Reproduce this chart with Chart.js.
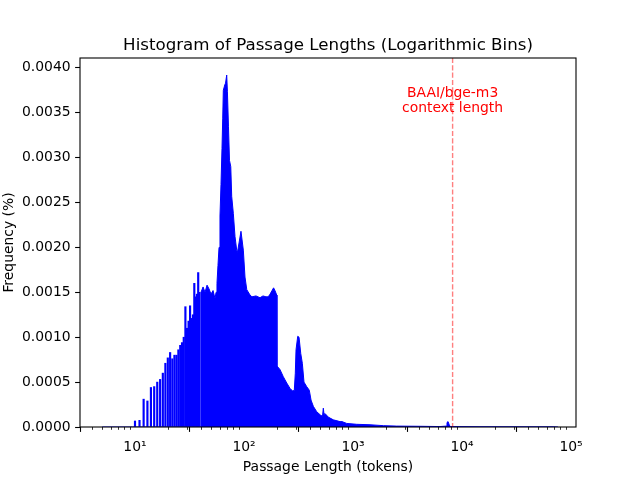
<!DOCTYPE html>
<html>
<head>
<meta charset="utf-8">
<script src="https://cdn.jsdelivr.net/npm/chart.js@4.4.1/dist/chart.umd.min.js"></script>
<style>
  html, body { margin: 0; padding: 0; background: #fff; }
</style>
</head>
<body>
<canvas id="histChart" width="640" height="480"></canvas>
<script>
// short passages: one integer length per log bin, so these show up as spikes
const spikeLengths = [10, 11, 12, 13, 14, 15, 16, 17, 18, 19, 20, 21, 22, 23, 24,
  25, 26, 27, 28, 29, 30, 31, 32, 33, 34, 35, 36, 37, 38, 39];
const spikeFreq = [0.000067, 0.000074, 0.00031, 0.00029, 0.00044, 0.00045, 0.00050, 0.00053,
  0.00060, 0.00071, 0.00077, 0.00083, 0.00076, 0.00080, 0.00080, 0.00086, 0.00091, 0.00094,
  0.00100, 0.00134, 0.00110, 0.00118, 0.00135, 0.00121, 0.00125, 0.00160, 0.00145, 0.00148,
  0.00172, 0.00150];

// longer passages: bins are filled, read as a continuous outline
const curveLengths = [5, 9.5, 39.6, 40.3, 42.1, 43.9, 45.8, 47.7, 49.8, 52.0, 54.2, 55.4, 56.5,
  57.7, 59.0, 60.2, 61.5, 62.8, 63.8, 64.6, 66.6, 67.7, 69.4, 70.4, 72.0, 73.6, 75.6, 77.1,
  79.8, 82.7, 85.7, 86.9, 90.0, 93.8, 98.6, 102.1, 106, 113.5, 118.3, 128.8, 140.2, 149.3,
  159.1, 166.7, 173.5, 180.8, 186.7, 192.3, 199.5, 200.5, 213.8, 229.4, 246.6, 264.4, 279.8,
  289.3, 295.5, 300, 311, 319.7, 331.4, 342.8, 355, 375.7, 397, 411.9, 432.6, 464.7, 505.6,
  525, 534, 542, 553.6, 593, 659, 760, 793, 875, 1081, 1432, 1897, 2517, 4120, 6286, 7129,
  7278, 7441, 7603, 7770, 14620, 34000, 68400, 76000];
const curveFreq = [0, 0, 0, 0.00150, 0.00156, 0.00150, 0.00158, 0.00154, 0.00148, 0.00152,
  0.00143, 0.00150, 0.00160, 0.00180, 0.00200, 0.00235, 0.00270, 0.00310, 0.00344, 0.00375,
  0.00381, 0.00383, 0.00392, 0.00374, 0.00335, 0.00297, 0.00290, 0.00257, 0.00238, 0.00212,
  0.00197, 0.00194, 0.00205, 0.00218, 0.00197, 0.00167, 0.00153, 0.00147, 0.00145, 0.00146,
  0.00144, 0.00146, 0.00145, 0.00145, 0.00148, 0.00152, 0.00155, 0.00152, 0.00147, 0.00068,
  0.00064, 0.00056, 0.00049, 0.00043, 0.00040, 0.00041, 0.00060, 0.00086, 0.00101, 0.00100,
  0.00082, 0.00071, 0.00050, 0.00045, 0.00041, 0.00030, 0.00023, 0.00017, 0.00013, 0.00012,
  0.00021, 0.00014, 0.00015, 0.00011, 0.00008, 0.00006, 0.00006, 0.00004, 0.00003, 0.000025,
  0.000015, 0.00001, 0.000008, 0.000005, 0.00001, 0.00005, 0.00006, 0.00003, 0.000005,
  0.000003, 0.000002, 0.000002, 0];

const xTicks = [10, 100, 1000, 10000, 100000];
const yTicks = [0, 0.0005, 0.001, 0.0015, 0.002, 0.0025, 0.003, 0.0035, 0.004];
const contextLength = 8192;

const sup = ['⁰', '¹', '²', '³', '⁴', '⁵'];

Chart.defaults.font.family = 'DejaVu Sans';
Chart.defaults.font.size = 13.9;
Chart.defaults.color = '#000';

const extras = {
  id: 'extras',
  afterDatasetsDraw(chart) {
    const { ctx, chartArea: a, scales: { x } } = chart;
    const cx = x.getPixelForValue(contextLength);
    ctx.save();
    ctx.strokeStyle = 'rgba(255,0,0,0.5)';
    ctx.lineWidth = 1.4;
    ctx.setLineDash([5.1, 2.2]);
    ctx.beginPath();
    ctx.moveTo(cx, a.top);
    ctx.lineTo(cx, a.bottom);
    ctx.stroke();
    ctx.restore();
  },
  afterDraw(chart) {
    const { ctx, chartArea: a, scales: { x, y } } = chart;
    ctx.save();
    // box round the plot
    ctx.strokeStyle = '#000';
    ctx.lineWidth = 1.1;
    ctx.strokeRect(a.left, a.top, a.right - a.left, a.bottom - a.top);
    // minor log ticks
    ctx.lineWidth = 0.8;
    ctx.beginPath();
    for (let e = 0; e <= 5; e++) {
      for (let m = 2; m <= 9; m++) {
        const v = m * Math.pow(10, e);
        if (v < x.min || v > x.max) continue;
        const px = Math.round(x.getPixelForValue(v)) + 0.5;
        ctx.moveTo(px, a.bottom);
        ctx.lineTo(px, a.bottom + 2.8);
      }
    }
    ctx.stroke();
    // title
    ctx.fillStyle = '#000';
    ctx.textAlign = 'center';
    ctx.textBaseline = 'alphabetic';
    ctx.font = '16.67px "DejaVu Sans"';
    ctx.fillText('Histogram of Passage Lengths (Logarithmic Bins)', (a.left + a.right) / 2, 49.5);
    // note next to the dashed line
    const cx = x.getPixelForValue(contextLength);
    const by = y.getPixelForValue(0.0035);
    ctx.fillStyle = 'red';
    ctx.font = '13.9px "DejaVu Sans"';
    ctx.fillText('BAAI/bge-m3', cx, by - 16);
    ctx.fillText('context length', cx, by - 0.5);
    ctx.restore();
  }
};

new Chart(document.getElementById('histChart'), {
  type: 'bar',
  data: {
    datasets: [{
      type: 'bar',
      data: spikeLengths.map((v, i) => ({ x: v, y: spikeFreq[i] })),
      backgroundColor: '#0000ff',
      borderWidth: 0,
      barThickness: 1.5,
      order: 1
    }, {
      type: 'line',
      data: curveLengths.map((v, i) => ({ x: v, y: curveFreq[i] })),
      borderColor: '#0000ff',
      backgroundColor: '#0000ff',
      borderWidth: 1,
      pointRadius: 0,
      tension: 0,
      fill: 'origin',
      order: 2
    }]
  },
  options: {
    responsive: false,
    animation: false,
    layout: { padding: { left: 0, top: 58, right: 64, bottom: 0 } },
    plugins: { legend: { display: false }, tooltip: { enabled: false } },
    scales: {
      x: {
        type: 'logarithmic',
        min: 3.13,
        max: 111000,
        afterBuildTicks: (s) => { s.ticks = xTicks.map(v => ({ value: v })); },
        afterFit: (s) => { s.height = 53; },
        ticks: {
          autoSkip: false,
          maxRotation: 0,
          padding: 7,
          callback: (v) => '10' + sup[Math.round(Math.log10(v))]
        },
        grid: { drawOnChartArea: false, tickLength: 4.9, color: '#000', tickWidth: 1.1 },
        border: { display: false },
        title: { display: true, text: 'Passage Length (tokens)', padding: { top: 0, bottom: 4.7 } }
      },
      y: {
        min: 0,
        max: 0.00411,
        afterBuildTicks: (s) => { s.ticks = yTicks.map(v => ({ value: v })); },
        afterFit: (s) => { s.width = 80; },
        ticks: {
          padding: 4.5,
          callback: (v) => v.toFixed(4)
        },
        grid: { drawOnChartArea: false, tickLength: 4.9, color: '#000', tickWidth: 1.1 },
        border: { display: false },
        title: { display: true, text: 'Frequency (%)', padding: { top: 1, bottom: 0 } }
      }
    }
  },
  plugins: [extras]
});
</script>
</body>
</html>
